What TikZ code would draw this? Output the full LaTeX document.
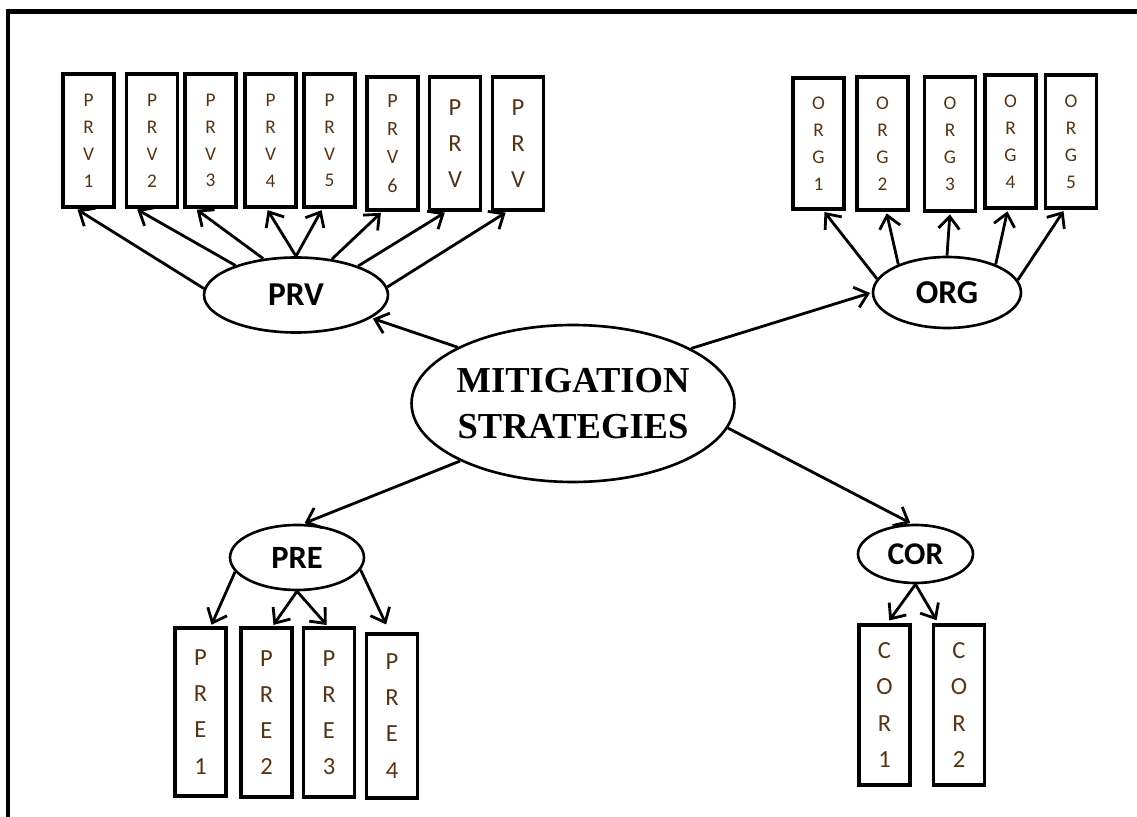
\documentclass[tikz,border=0pt]{standalone}
\usepackage{fontspec}
\setmainfont{Carlito}
\newfontfamily\timesb{Liberation Serif}
\usetikzlibrary{arrows.meta,calc,shapes.geometric}
\definecolor{boxtxt}{RGB}{85,52,22}
\begin{document}
\begin{tikzpicture}[x=0.02cm,y=-0.02cm,
  stackbox/.style={draw, line width=1.9pt, rectangle, minimum width=1.02cm, inner sep=0pt, align=center, text=boxtxt, font=\fontsize{11}{15.3}\selectfont},
  bigbox/.style={stackbox, font=\fontsize{14}{20.6}\selectfont},
  ell/.style={draw, ellipse, line width=1.5pt, inner sep=0pt, font=\bfseries\fontsize{19}{22}\selectfont},
  arr/.style={line width=1.6pt, shorten >=1pt, -{Straight Barb[length=7pt,width=12pt]}},
  frame/.style={line width=2.3pt}]
\useasboundingbox (0,0) rectangle (1137,817);
\fill[white] (0,0) rectangle (1137,817);
\draw[frame] (8,830) -- (8,11.5) -- (1150,11.5);

% central
\node[draw, ellipse, line width=1.5pt, inner sep=0pt, minimum width=6.46cm, minimum height=3.14cm,
      align=center, font=\timesb\bfseries\fontsize{20.8}{26.6}\selectfont] (mit) at (573,403.5)
      {\makebox[0pt]{MITIGATION}\\\makebox[0pt]{STRATEGIES}};

% second level
\node[ell, minimum width=3.68cm, minimum height=1.5cm] (prv) at (296,295) {PRV};
\node[ell, minimum width=2.96cm, minimum height=1.42cm] (org) at (947,292.5) {ORG};
\node[ell, minimum width=2.68cm, minimum height=1.3cm, font=\bfseries\fontsize{18.5}{22}\selectfont] (pre) at (297,557.5) {PRE};
\node[ell, minimum width=2.3cm, minimum height=1.16cm, font=\bfseries\fontsize{18}{22}\selectfont] (cor) at (915.5,554) {COR};

% PRV boxes
\node[stackbox, minimum height=2.66cm] (p1) at (88.5,140.5) {P\\R\\V\\1};
\node[stackbox, minimum height=2.66cm] (p2) at (152,140.5) {P\\R\\V\\2};
\node[stackbox, minimum height=2.66cm] (p3) at (210.5,140.5) {P\\R\\V\\3};
\node[stackbox, minimum height=2.66cm] (p4) at (270.5,140.5) {P\\R\\V\\4};
\node[stackbox, minimum height=2.66cm] (p5) at (329.5,140.5) {P\\R\\V\\5};
\node[stackbox, minimum height=2.66cm, font=\fontsize{11.5}{16}\selectfont] (p6) at (392.5,143.5) {P\\R\\V\\6};
\node[bigbox, minimum height=2.66cm] (p7) at (455,143.5) {P\\R\\V};
\node[bigbox, minimum height=2.66cm] (p8) at (518,143.5) {P\\R\\V};

% ORG boxes
\node[stackbox, minimum height=2.62cm] (o1) at (818.5,143.5) {O\\R\\G\\1};
\node[stackbox, minimum height=2.66cm] (o2) at (882.5,143.5) {O\\R\\G\\2};
\node[stackbox, minimum height=2.68cm] (o3) at (950,144) {O\\R\\G\\3};
\node[stackbox, minimum height=2.66cm] (o4) at (1010.5,141.5) {O\\R\\G\\4};
\node[stackbox, minimum height=2.66cm] (o5) at (1071,141.5) {O\\R\\G\\5};

% PRE boxes
\node[bigbox, minimum height=3.36cm] (e1) at (200.5,712) {P\\R\\E\\1};
\node[bigbox, minimum height=3.38cm] (e2) at (266.5,712.5) {P\\R\\E\\2};
\node[bigbox, minimum height=3.38cm] (e3) at (329,712.5) {P\\R\\E\\3};
\node[bigbox, minimum height=3.28cm] (e4) at (392,716) {P\\R\\E\\4};

% COR boxes
\node[bigbox, minimum height=3.2cm] (c1) at (884.5,705) {C\\O\\R\\1};
\node[bigbox, minimum height=3.2cm] (c2) at (959,705) {C\\O\\R\\2};

% central arrows
\draw[arr] (mit.154) -- (prv.-17);
\draw[arr] (mit.25) -- (org.180);
\draw[arr] (mit.207) -- (pre.80);
\draw[arr] (mit.-9) -- (cor.97);

% PRV arrows
\draw[arr] (prv.176) -- ($(p1.south west)!0.27!(p1.south east)$);
\draw[arr] (prv.154) -- ($(p2.south west)!0.2!(p2.south east)$);
\draw[arr] (prv.132) -- ($(p3.south west)!0.22!(p3.south east)$);
\draw[arr] (prv.90) -- ($(p4.south west)!0.43!(p4.south east)$);
\draw[arr] (prv.90) -- ($(p5.south west)!0.37!(p5.south east)$);
\draw[arr] (prv.45) -- ($(p6.south west)!0.31!(p6.south east)$);
\draw[arr] (prv.25) -- ($(p7.south west)!0.34!(p7.south east)$);
\draw[arr] (prv.5) -- ($(p8.south west)!0.3!(p8.south east)$);

% ORG arrows
\draw[arr] (org.169) -- ($(o1.south west)!0.59!(o1.south east)$);
\draw[arr] (org.150) -- ($(o2.south west)!0.57!(o2.south east)$);
\draw[arr] (org.90) -- ($(o3.south west)!0.5!(o3.south east)$);
\draw[arr] (org.30) -- ($(o4.south west)!0.45!(o4.south east)$);
\draw[arr] (org.10) -- ($(o5.south west)!0.38!(o5.south east)$);

% PRE arrows
\draw[arr] (pre.193) -- ($(e1.north west)!0.69!(e1.north east)$);
\draw[arr] (pre.270) -- ($(e2.north west)!0.61!(e2.north east)$);
\draw[arr] (pre.270) -- ($(e3.north west)!0.48!(e3.north east)$);
\draw[arr, shorten >=5pt] (pre.-11) -- ($(e4.north west)!0.46!(e4.north east)$);

% COR arrows
\draw[arr, shorten >=2pt] (cor.270) -- ($(c1.north west)!0.55!(c1.north east)$);
\draw[arr, shorten >=2pt] (cor.270) -- ($(c2.north west)!0.12!(c2.north east)$);
\end{tikzpicture}
\end{document}
